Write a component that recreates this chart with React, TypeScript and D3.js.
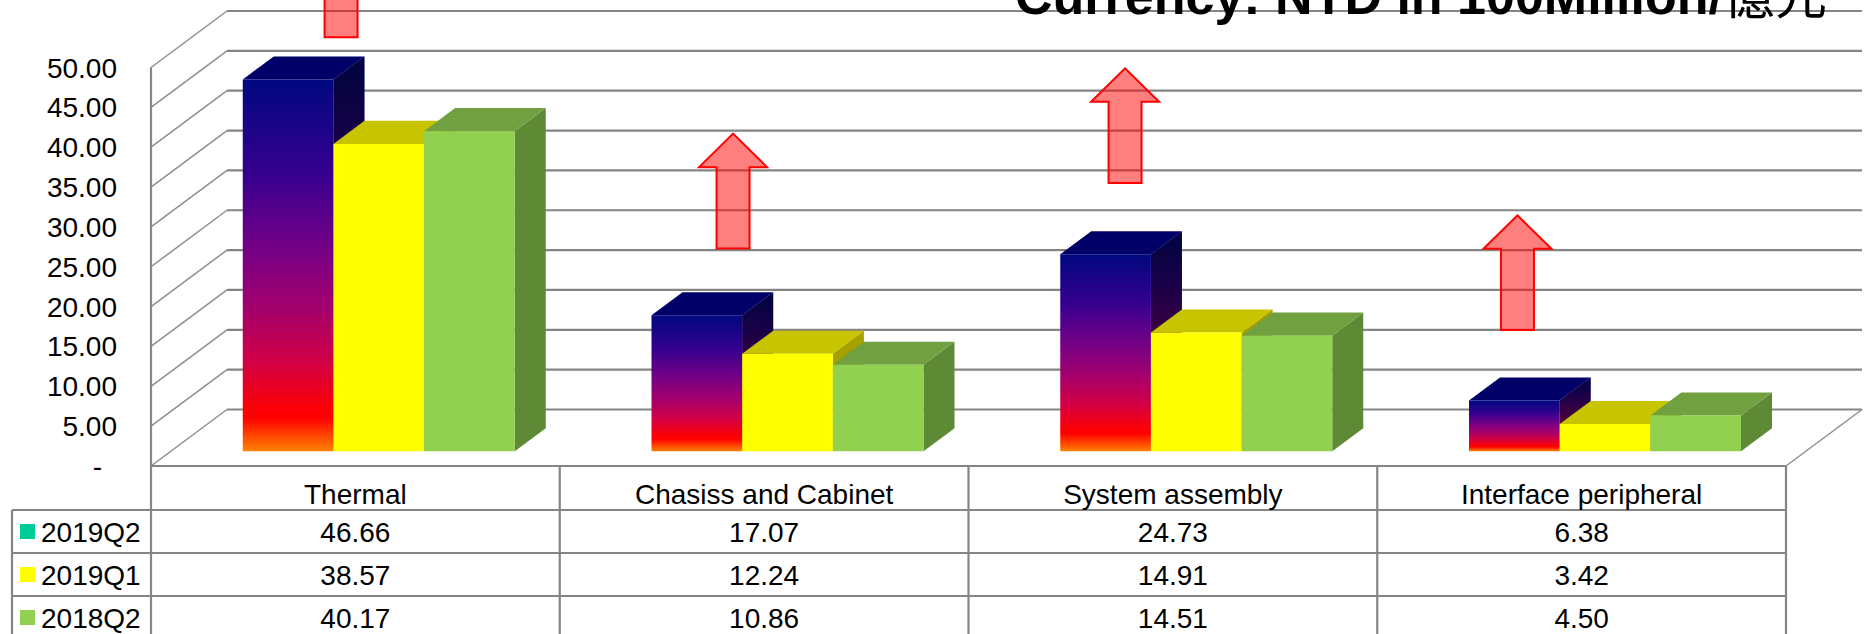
import * as d3 from "d3";

const categories = ["Thermal", "Chasiss and Cabinet", "System assembly", "Interface peripheral"];
const seriesNames = ["2019Q2", "2019Q1", "2018Q2"];
const values2019Q2 = [46.66, 17.07, 24.73, 6.38];
const values2019Q1 = [38.57, 12.24, 14.91, 3.42];
const values2018Q2 = [40.17, 10.86, 14.51, 4.5];
const yTicks = [0, 5, 10, 15, 20, 25, 30, 35, 40, 45, 50];
const titleText = "Currency: NTD in 100Million/";
const titleCjk = "億元";
// red "up" arrows drawn over the chart: base level (axis units) and position inside the category column
const arrowBase = [53.8, 27.3, 35.5, 17.05];
const arrowPos = [0.465, 0.424, 0.383, 0.343];

const W = 1865;
const H = 634;
const left = 151;
const right = 1786;
const floorY = 466;
const DX = 76;
const DY = 56.5;
const f0 = 0.26;
const f1 = 0.668;
const FONT = "'Liberation Sans', Arial, sans-serif";

const seriesValues = [values2019Q2, values2019Q1, values2018Q2];
const legendColors = ["#00cc99", "#ffff00", "#92d050"];
const frontFill = ["url(#rainbow)", "#ffff00", "#92d050"];
const topFill = ["#000068", "#c8c400", "#70a040"];
const sideFill = ["url(#rainbow)", "#a6a000", "#5f8a35"];

const y = d3.scaleLinear().domain([0, 50]).range([0, 398.5]);
const x = d3.scaleBand<string>().domain(categories).range([left, right]);
const xs = d3.scaleBand<string>().domain(seriesNames).range([0, 272]);
const groupOffset = 72;

const proj = (px: number, v: number, d: number): [number, number] => [px + d * DX, floorY - y(v) - d * DY];
const pts = (arr: [number, number][]) => arr.map((p) => p.join(",")).join(" ");

const headerH = 44;
const rowH = 43;

export default function App() {
  const gridColor = "#858585";
  const bars: JSX.Element[] = [];
  categories.forEach((c, ci) => {
    seriesNames.forEach((s, si) => {
      const v = seriesValues[si][ci];
      const x0 = (x(c) ?? 0) + groupOffset + (xs(s) ?? 0);
      const x1 = x0 + xs.bandwidth();
      const front = [proj(x0, 0, f0), proj(x1, 0, f0), proj(x1, v, f0), proj(x0, v, f0)] as [number, number][];
      const top = [proj(x0, v, f0), proj(x1, v, f0), proj(x1, v, f1), proj(x0, v, f1)] as [number, number][];
      const side = [proj(x1, 0, f0), proj(x1, v, f0), proj(x1, v, f1), proj(x1, 0, f1)] as [number, number][];
      bars.push(
        <g key={`${c}-${s}`}>
          <polygon points={pts(side)} fill={sideFill[si]} />
          {si === 0 && <polygon points={pts(side)} fill="#000" opacity={0.5} />}
          <polygon points={pts(top)} fill={topFill[si]} />
          <polygon points={pts(front)} fill={frontFill[si]} />
        </g>
      );
    });
  });

  const rowTop = (i: number) => floorY + headerH + i * rowH;
  const colEdges = [...categories.map((c) => x(c) ?? 0), right];

  return (
    <svg width={W} height={H} style={{ position: "absolute", left: 0, top: 0, background: "#fff" }}>
      <defs>
        <linearGradient id="rainbow" x1="0" y1="0" x2="0" y2="1">
          <stop offset="0" stopColor="#00087f" />
          <stop offset="0.25" stopColor="#35008f" />
          <stop offset="0.45" stopColor="#730086" />
          <stop offset="0.62" stopColor="#a5006c" />
          <stop offset="0.76" stopColor="#d20045" />
          <stop offset="0.88" stopColor="#fa0008" />
          <stop offset="0.91" stopColor="#ff0000" />
          <stop offset="1" stopColor="#ff8200" />
        </linearGradient>
      </defs>

      {/* left wall diagonals and back wall gridlines */}
      {yTicks.map((t) => {
        const a = proj(left, t, 0);
        const b = proj(left, t, 1);
        const e = proj(right, t, 1);
        return (
          <g key={t}>
            <line x1={a[0]} y1={a[1]} x2={b[0]} y2={b[1]} stroke="#8e8e8e" strokeWidth={1.5} />
            <line x1={b[0]} y1={b[1]} x2={e[0]} y2={e[1]} stroke={gridColor} strokeWidth={2.2} />
          </g>
        );
      })}
      {/* floor right edge */}
      <line
        x1={right}
        y1={floorY}
        x2={proj(right, 0, 1)[0]}
        y2={proj(right, 0, 1)[1]}
        stroke="#8e8e8e"
        strokeWidth={1.5}
      />
      {/* front axis */}
      <line x1={left} y1={proj(left, 50, 0)[1]} x2={left} y2={H} stroke={gridColor} strokeWidth={2.2} />

      {/* y tick labels */}
      {yTicks.map((t) => (
        <text
          key={t}
          x={t === 0 ? 102 : 117}
          y={floorY - y(t) + 10}
          textAnchor="end"
          fontFamily={FONT}
          fontSize={28}
          fill="#000"
        >
          {t === 0 ? "-" : t.toFixed(2)}
        </text>
      ))}

      {bars}

      {/* title, cut off by the top edge as in the source */}
      <text x={1015} y={14} fontFamily={FONT} fontSize={52} fontWeight="bold" fill="#000">
        {titleText}
        <tspan fontFamily="'Noto Sans CJK TC', sans-serif" fontWeight="normal">
          {titleCjk}
        </tspan>
      </text>

      {/* arrows */}
      {categories.map((c, i) => {
        const cx = (x(c) ?? 0) + x.bandwidth() * arrowPos[i];
        const yb = floorY - y(arrowBase[i]);
        const yh = floorY - y(arrowBase[i] + 10.2);
        const yt = floorY - y(arrowBase[i] + 14.4);
        const p: [number, number][] = [
          [cx - 16.5, yb],
          [cx - 16.5, yh],
          [cx - 34, yh],
          [cx, yt],
          [cx + 34, yh],
          [cx + 16.5, yh],
          [cx + 16.5, yb],
        ];
        return <polygon key={c} points={pts(p)} fill="rgba(255,0,0,0.5)" stroke="#ff0000" strokeWidth={2} />;
      })}

      {/* data table */}
      <line x1={left} y1={floorY} x2={right} y2={floorY} stroke={gridColor} strokeWidth={2.2} />
      {[0, 1, 2].map((i) => (
        <line key={i} x1={12} y1={rowTop(i)} x2={right} y2={rowTop(i)} stroke={gridColor} strokeWidth={2.2} />
      ))}
      <line x1={12} y1={rowTop(0)} x2={12} y2={H} stroke={gridColor} strokeWidth={2.2} />
      {colEdges.slice(1).map((cx, i) => (
        <line key={i} x1={cx} y1={floorY} x2={cx} y2={H} stroke={gridColor} strokeWidth={2.2} />
      ))}
      {categories.map((c) => (
        <text
          key={c}
          x={(x(c) ?? 0) + x.bandwidth() / 2}
          y={floorY + 38}
          textAnchor="middle"
          fontFamily={FONT}
          fontSize={28}
          fill="#000"
        >
          {c}
        </text>
      ))}
      {seriesNames.map((s, si) => {
        const cy = rowTop(si) + rowH / 2;
        return (
          <g key={s}>
            <rect x={20} y={cy - 7.5} width={15} height={15} fill={legendColors[si]} />
            <text x={41} y={cy + 10} fontFamily={FONT} fontSize={28} fill="#000">
              {s}
            </text>
            {categories.map((c, ci) => (
              <text
                key={c}
                x={(x(c) ?? 0) + x.bandwidth() / 2}
                y={cy + 10}
                textAnchor="middle"
                fontFamily={FONT}
                fontSize={28}
                fill="#000"
              >
                {seriesValues[si][ci].toFixed(2)}
              </text>
            ))}
          </g>
        );
      })}
    </svg>
  );
}
